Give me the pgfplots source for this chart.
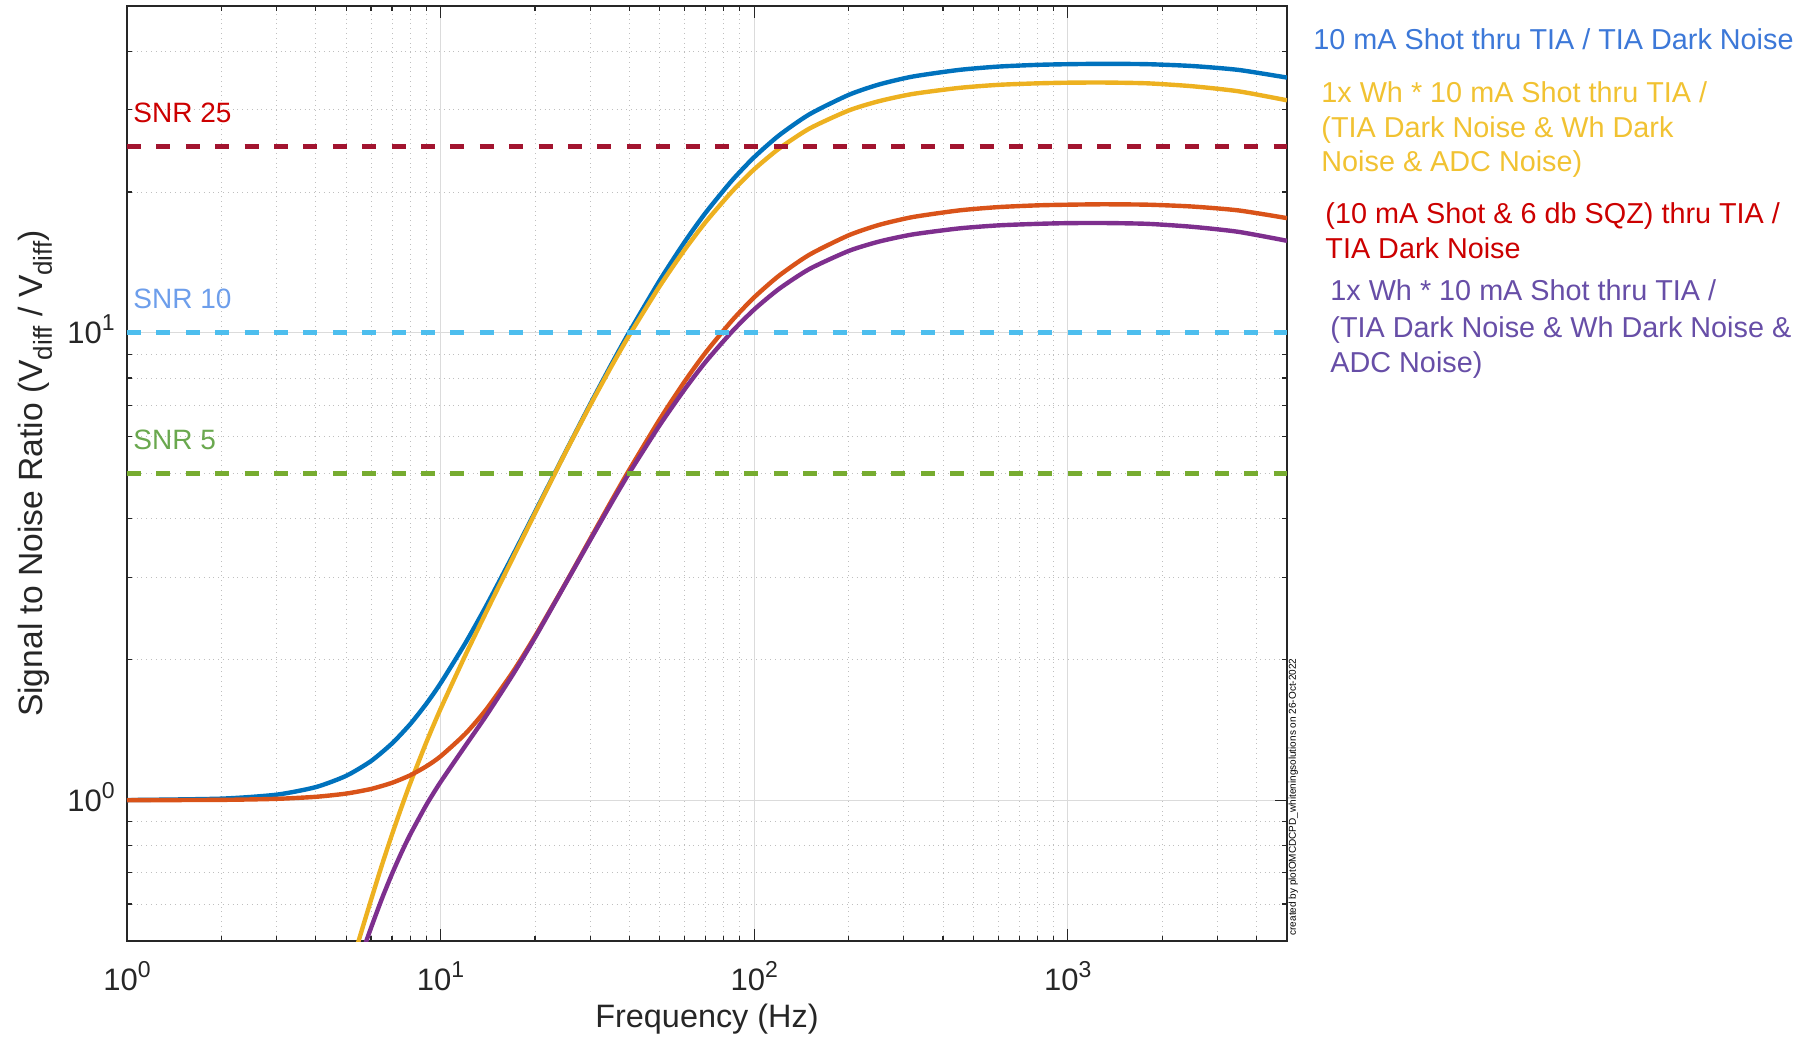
\documentclass[border=0pt]{standalone}
\usepackage{pgfplots}
\pgfplotsset{compat=1.18}
\usepackage{fontspec}
\setmainfont{Liberation Sans}

\definecolor{cblue}{RGB}{0,114,189}
\definecolor{cyellow}{RGB}{237,177,32}
\definecolor{corange}{RGB}{217,83,25}
\definecolor{cpurple}{RGB}{126,47,142}
\definecolor{lsnr25}{RGB}{162,20,47}
\definecolor{lsnr10}{RGB}{77,190,238}
\definecolor{lsnr5}{RGB}{119,172,48}
\definecolor{tblue}{RGB}{60,120,216}
\definecolor{tyellow}{RGB}{241,194,50}
\definecolor{tred}{RGB}{204,0,0}
\definecolor{tpurple}{RGB}{103,78,167}
\definecolor{tlblue}{RGB}{109,158,235}
\definecolor{tgreen}{RGB}{106,168,79}
\definecolor{axc}{RGB}{38,38,38}

\newcommand{\tp}[1]{10\raisebox{6.5pt}{\fontsize{11.5}{12}\selectfont #1}}
\newcommand{\sub}[1]{\raisebox{-4.5pt}{\fontsize{13}{13}\selectfont #1}}
\newcommand{\legfont}{\fontsize{14.4}{17.5}\selectfont}
\newcommand{\snrfont}{\fontsize{14}{16}\selectfont}

\begin{document}
\begin{tikzpicture}
\path[use as bounding box] (-63.5pt,-49pt) rectangle (840.5pt,470.5pt);
\begin{axis}[
  at={(0pt,0pt)}, anchor=south west,
  scale only axis, width=580pt, height=467.5pt,
  xmode=log, ymode=log,
  xmin=1, xmax=5000, ymin=0.5, ymax=50,
  clip mode=individual,
  axis line style={color=axc, line width=0.7pt},
  tick style={color=axc, line width=0.6pt},
  tick align=inside, tick pos=both,
  major tick length=5.8pt, minor tick length=2.6pt,
  xtick={1,10,100,1000},
  xticklabels={\tp{0},\tp{1},\tp{2},\tp{3}},
  minor xtick={2,3,4,5,6,7,8,9,20,30,40,50,60,70,80,90,200,300,400,500,600,700,800,900,2000,3000,4000},
  ytick={1,10},
  yticklabels={\tp{0},\tp{1}},
  minor ytick={0.6,0.7,0.8,0.9,2,3,4,5,6,7,8,9,20,30,40},
  grid=both,
  major grid style={color=black!14, line width=0.5pt},
  minor grid style={color=black!25, line width=0.4pt, dotted},
  xticklabel style={anchor=base, inner sep=0pt, yshift=-24.5pt, font=\fontsize{15.5}{18}\selectfont, text=axc},
  yticklabel style={anchor=base east, inner sep=0pt, xshift=-6pt, yshift=-5.5pt, font=\fontsize{15.5}{18}\selectfont, text=axc},
  xlabel={Frequency (Hz)},
  xlabel style={at={(axis description cs:0.5,0)}, anchor=base, yshift=-43pt, font=\fontsize{16.2}{19}\selectfont, text=axc},
  ylabel={Signal to Noise Ratio (V\sub{diff} / V\sub{diff})},
  ylabel style={at={(axis description cs:-0.0725,0.5)}, anchor=base, font=\fontsize{16.8}{19}\selectfont, text=axc},
]
% blue: 10 mA Shot thru TIA / TIA Dark Noise
\addplot[cblue, line width=2.2pt, smooth, tension=0.4] coordinates {
(1,1.001) (2,1.008) (3,1.028) (4,1.067) (5,1.128) (6,1.213) (7,1.323) (8,1.455)
(9,1.608) (10,1.780) (12,2.170) (14,2.610) (17,3.342) (20,4.136) (25,5.553)
(30,7.037) (35,8.545) (40,10.045) (50,12.95) (60,15.64) (70,18.06) (85,21.18)
(100,23.75) (120,26.44) (150,29.33) (200,32.27) (250,33.97) (320,35.32) (450,36.5)
(600,37.1) (800,37.42) (1000,37.54) (1300,37.61) (1800,37.54) (2500,37.2)
(3500,36.5) (5000,35.14)};
% yellow: 1x Wh * 10 mA Shot thru TIA / (TIA, Wh and ADC noise)
\addplot[cyellow, line width=2.2pt, smooth, tension=0.4] coordinates {
(5,0.407) (5.5,0.505) (6,0.612) (6.5,0.727) (7,0.845) (7.5,0.965) (8,1.087)
(9,1.329) (10,1.569) (12,2.045) (14,2.532) (17,3.300) (20,4.111) (25,5.541)
(30,7.0) (35,8.46) (40,9.89) (50,12.59) (60,15.05) (70,17.25) (85,20.06)
(100,22.37) (120,24.77) (150,27.34) (200,29.88) (250,31.29) (320,32.42)
(450,33.40) (600,33.91) (800,34.16) (1000,34.27) (1300,34.30) (1800,34.16)
(2500,33.67) (3500,32.85) (5000,31.42)};
% orange: (10 mA Shot & 6 dB SQZ) thru TIA / TIA Dark Noise
\addplot[corange, line width=2.2pt, smooth, tension=0.4] coordinates {
(1,1.0003) (2,1.002) (3,1.0071) (4,1.0172) (5,1.0335) (6,1.0573) (7,1.0898)
(8,1.131) (9,1.1817) (10,1.2418) (12,1.3882) (14,1.5662) (17,1.8821) (20,2.242)
(25,2.9084) (30,3.6235) (35,4.359) (40,5.096) (50,6.532) (60,7.868) (70,9.072)
(85,10.625) (100,11.907) (120,13.248) (150,14.69) (200,16.16) (250,17.01)
(320,17.68) (450,18.27) (600,18.57) (800,18.73) (1000,18.79) (1300,18.83)
(1800,18.79) (2500,18.62) (3500,18.27) (5000,17.59)};
% purple
\addplot[cpurple, line width=2.2pt, smooth, tension=0.4] coordinates {
(5,0.3727) (5.5,0.452) (6,0.5335) (6.5,0.616) (7,0.696) (7.5,0.7724) (8,0.845)
(9,0.9767) (10,1.0944) (12,1.3084) (14,1.5195) (17,1.858) (20,2.228) (25,2.902)
(30,3.602) (35,4.315) (40,5.02) (50,6.349) (60,7.569) (70,8.664) (85,10.06)
(100,11.216) (120,12.413) (150,13.69) (200,14.96) (250,15.67) (320,16.23)
(450,16.72) (600,16.97) (800,17.10) (1000,17.16) (1300,17.17) (1800,17.10)
(2500,16.85) (3500,16.44) (5000,15.73)};
% SNR lines
\addplot[lsnr25, line width=2.5pt, dash pattern=on 7pt off 7.7pt] coordinates {(1,25) (5000,25)};
\addplot[lsnr10, line width=2.5pt, dash pattern=on 7pt off 7.7pt] coordinates {(1,10) (5000,10)};
\addplot[lsnr5, line width=2.5pt, dash pattern=on 7pt off 7.7pt] coordinates {(1,5) (5000,5)};
\node[anchor=base west, inner sep=0pt, xshift=3pt, yshift=12pt, text=tred, font=\snrfont] at (axis cs:1,25) {SNR 25};
\node[anchor=base west, inner sep=0pt, xshift=3pt, yshift=12pt, text=tlblue, font=\snrfont] at (axis cs:1,10) {SNR 10};
\node[anchor=base west, inner sep=0pt, xshift=3pt, yshift=12pt, text=tgreen, font=\snrfont] at (axis cs:1,5) {SNR 5};
\end{axis}
\node[rotate=90, anchor=north west, inner sep=0.6pt, font=\fontsize{5}{6}\selectfont] at (580pt,2pt) {created by plotOMCDCPD\_whiteningsolutions on 26-Oct-2022};
% legend text
\node[anchor=base west, inner sep=0pt, text=tblue, font=\legfont] at (593pt,445.5pt) {10 mA Shot thru TIA / TIA Dark Noise};
\node[anchor=base west, inner sep=0pt, text=tyellow, font=\legfont] at (597pt,419pt) {1x Wh * 10 mA Shot thru TIA /};
\node[anchor=base west, inner sep=0pt, text=tyellow, font=\legfont] at (597pt,401.5pt) {(TIA Dark Noise \& Wh Dark};
\node[anchor=base west, inner sep=0pt, text=tyellow, font=\legfont] at (597pt,384.5pt) {Noise \& ADC Noise)};
\node[anchor=base west, inner sep=0pt, text=tred, font=\legfont] at (599pt,358.5pt) {(10 mA Shot \& 6 db SQZ) thru TIA /};
\node[anchor=base west, inner sep=0pt, text=tred, font=\legfont] at (599pt,341pt) {TIA Dark Noise};
\node[anchor=base west, inner sep=0pt, text=tpurple, font=\legfont] at (601.5pt,320pt) {1x Wh * 10 mA Shot thru TIA /};
\node[anchor=base west, inner sep=0pt, text=tpurple, font=\legfont] at (601.5pt,301.5pt) {(TIA Dark Noise \& Wh Dark Noise \&};
\node[anchor=base west, inner sep=0pt, text=tpurple, font=\legfont] at (601.5pt,284pt) {ADC Noise)};
\end{tikzpicture}
\end{document}
